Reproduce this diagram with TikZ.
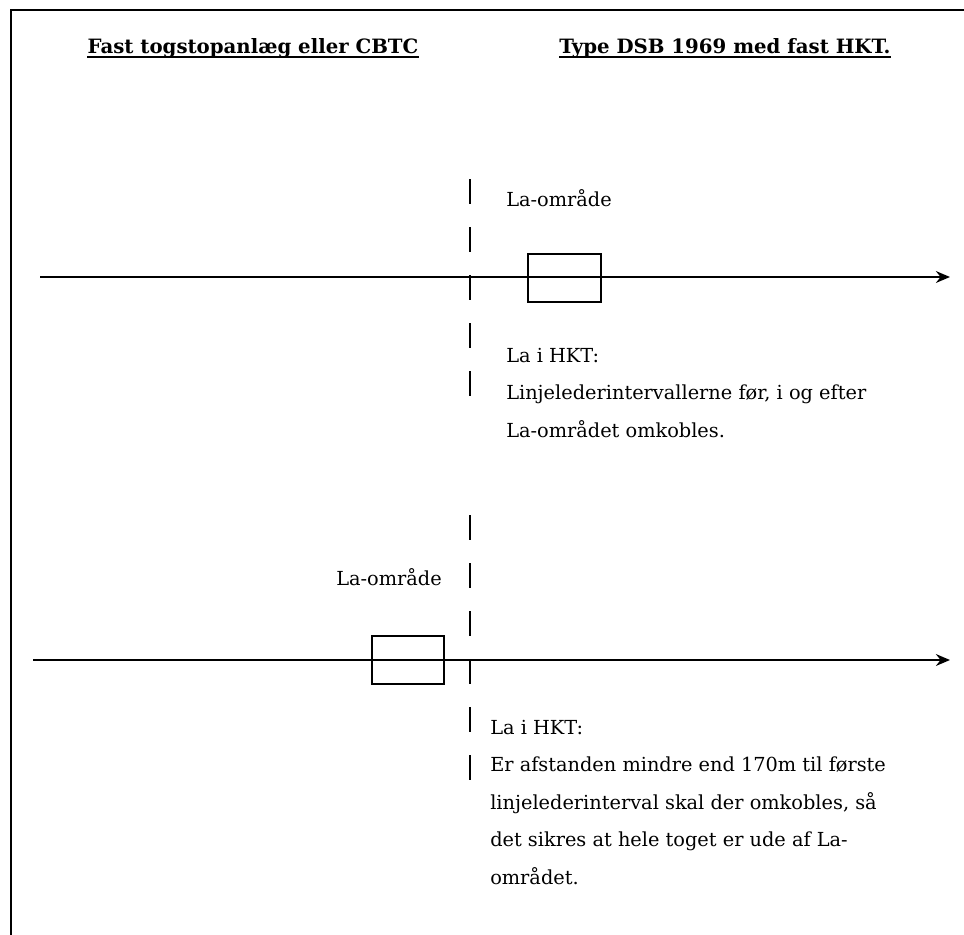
\documentclass[tikz,border=0pt]{standalone}
\usepackage{fontspec}
\setmainfont{DejaVu Serif}
\usepackage{tikz}
\usetikzlibrary{arrows,arrows.meta}
\tikzstyle{track} = [-{Stealth[length=10.5pt,width=8.8pt]},color=black,line width=2pt]
\tikzstyle{cut} = [color=black,line width=1.4pt,dash pattern=on 18.75pt off 17.25pt]
\tikzstyle{laboks} = [draw,line width=1.3pt,minimum width=54.75pt,minimum height=36pt,inner sep=0pt]
\tikzstyle{heading} = [anchor=base,inner sep=0pt,font=\fontsize{14.8}{17}\selectfont\bfseries]
\tikzstyle{txt} = [inner sep=0pt,align=left,font=\fontsize{14.5}{28.1}\selectfont]

\begin{document}
\begin{tikzpicture}[x=0.75pt,y=-0.75pt]
          % frame
          \useasboundingbox (0,0) rectangle (964,935);
          \draw [color=black,line width=2pt] (11,935) -- (11,10) -- (964,10);
          % headings
          \node[heading] (h1) at (253,53) {Fast togstopanlæg eller CBTC};
          \node[heading] (h2) at (725,53) {Type DSB 1969 med fast HKT.};
          \draw [line width=1.1pt] ([yshift=-3pt]h1.base west) -- ([yshift=-3pt]h1.base east);
          \draw [line width=1.1pt] ([yshift=-3pt]h2.base west) -- ([yshift=-3pt]h2.base east);
          % upper case
          \coordinate (a1) at (40,277);
          \coordinate (b1) at (950,277);
          \coordinate (d1) at (470,179);
          \coordinate (e1) at (470,397);
          \draw [cut] (d1) -- (e1);
          \draw [track] (a1) -- (b1);
          \node[laboks] (box1) at (564.5,278) {};
          \node[txt,anchor=base west] (la1) at (506,206) {La-område};
          \node[txt,anchor=base west] (hkt1) at (506,437) {La i HKT:\\Linjelederintervallerne før, i og efter\\La-området omkobles.};
          % lower case
          \coordinate (a2) at (33,660);
          \coordinate (b2) at (950,660);
          \coordinate (d2) at (470,515);
          \coordinate (e2) at (470,781);
          \draw [cut] (d2) -- (e2);
          \draw [track] (a2) -- (b2);
          \node[laboks,minimum width=54pt] (box2) at (408,660) {};
          \node[txt,anchor=base east] (la2) at (442,585) {La-område};
          \node[txt,anchor=base west] (hkt2) at (490,884) {La i HKT:\\Er afstanden mindre end 170m til første\\linjelederinterval skal der omkobles, så\\det sikres at hele toget er ude af La-\\området.};
      \end{tikzpicture}
\end{document}
